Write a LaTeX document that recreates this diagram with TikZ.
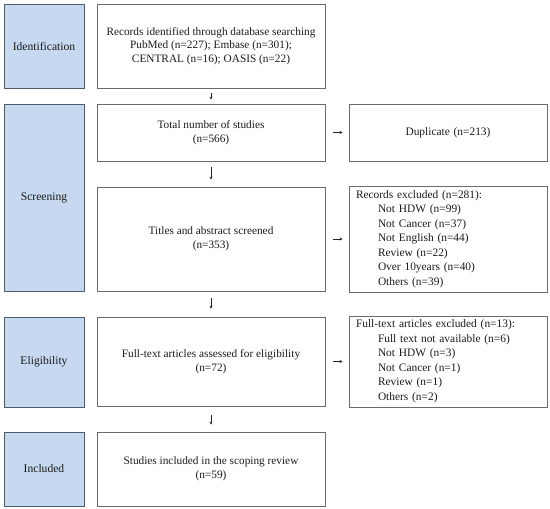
\documentclass[tikz,border=0pt]{standalone}
\usepackage{fontspec}
\setmainfont{Liberation Serif}
\usetikzlibrary{arrows.meta}
\definecolor{bluefill}{HTML}{C6D9F1}
\definecolor{blueline}{HTML}{4F5B69}
\definecolor{boxline}{HTML}{6B6B6B}
\definecolor{txt}{HTML}{1A1A1A}
\begin{document}
\begin{tikzpicture}[x=1pt,y=-1pt,
  stagebox/.style={draw=blueline, fill=bluefill, line width=0.9pt, minimum width=80pt, inner sep=0pt, text=txt, align=center, font=\fontsize{11.6}{14}\selectfont},
  mainbox/.style={draw=boxline, line width=0.9pt, minimum width=228pt, inner sep=0pt, text=txt, align=center, font=\fontsize{11.3}{13.6}\selectfont},
  sidebox/.style={draw=boxline, line width=0.9pt, minimum width=198pt, inner sep=0pt, text=txt, text width=184pt, align=left, font=\fontsize{11.4}{14.5}\selectfont},
  arr/.style={draw=black!85, line width=0.6pt, -{Stealth[length=3pt,width=3pt]}}
]
\useasboundingbox (0,0) rectangle (550,509);

% stage labels
\node[stagebox, minimum height=84pt]  (ident)  at (44,46)    {Identification};
\node[stagebox, minimum height=187pt] (screen) at (44,197.5) {Screening};
\node[stagebox, minimum height=90pt]  (elig)   at (44,362)   {Eligibility};
\node[stagebox, minimum height=74pt]  (incl)   at (44,469)   {Included};

% main column
\node[mainbox, minimum height=84pt]  (rec) at (211,46)    {Records identified through database searching\\PubMed (n=227); Embase (n=301);\\CENTRAL (n=16); OASIS (n=22)};
\node[mainbox, minimum height=57pt]  (tot) at (211,132.5) {Total number of studies\\(n=566)};
\node[mainbox, minimum height=104pt] (tit) at (211,239)   {Titles and abstract screened\\(n=353)};
\node[mainbox, minimum height=89pt]  (ft)  at (211,361.5) {Full-text articles assessed for eligibility\\(n=72)};
\node[mainbox, minimum height=74pt]  (stu) at (211,469)   {Studies included in the scoping review\\(n=59)};

% side column
\node[sidebox, align=center, minimum height=57pt] (dup) at (448,132.5) {Duplicate (n=213)};
\node[sidebox, minimum height=106pt] (rex) at (448,239) {Records excluded (n=281):\\
\hspace*{22pt}Not HDW (n=99)\\
\hspace*{22pt}Not Cancer (n=37)\\
\hspace*{22pt}Not English (n=44)\\
\hspace*{22pt}Review (n=22)\\
\hspace*{22pt}Over 10years (n=40)\\
\hspace*{22pt}Others (n=39)};
\node[sidebox, minimum height=91pt] (fex) at (448,361.5) {Full-text articles excluded (n=13):\\
\hspace*{22pt}Full text not available (n=6)\\
\hspace*{22pt}Not HDW (n=3)\\
\hspace*{22pt}Not Cancer (n=1)\\
\hspace*{22pt}Review (n=1)\\
\hspace*{22pt}Others (n=2)};

% arrows
\draw[arr, shorten <=4.5pt, shorten >=4pt] (rec.south) -- (tot.north);
\draw[arr, shorten <=6pt, shorten >=7pt] (tot.south) -- (tit.north);
\draw[arr, shorten <=7pt, shorten >=8pt] (tit.south) -- (ft.north);
\draw[arr, shorten <=9pt, shorten >=7pt] (ft.south) -- (stu.north);
\draw[arr, shorten <=8pt, shorten >=6pt] (tot.east) -- (dup.west);
\draw[arr, shorten <=8pt, shorten >=6pt] (tit.east) -- (rex.west);
\draw[arr, shorten <=8pt, shorten >=6pt] (ft.east) -- (fex.west);
\end{tikzpicture}
\end{document}
